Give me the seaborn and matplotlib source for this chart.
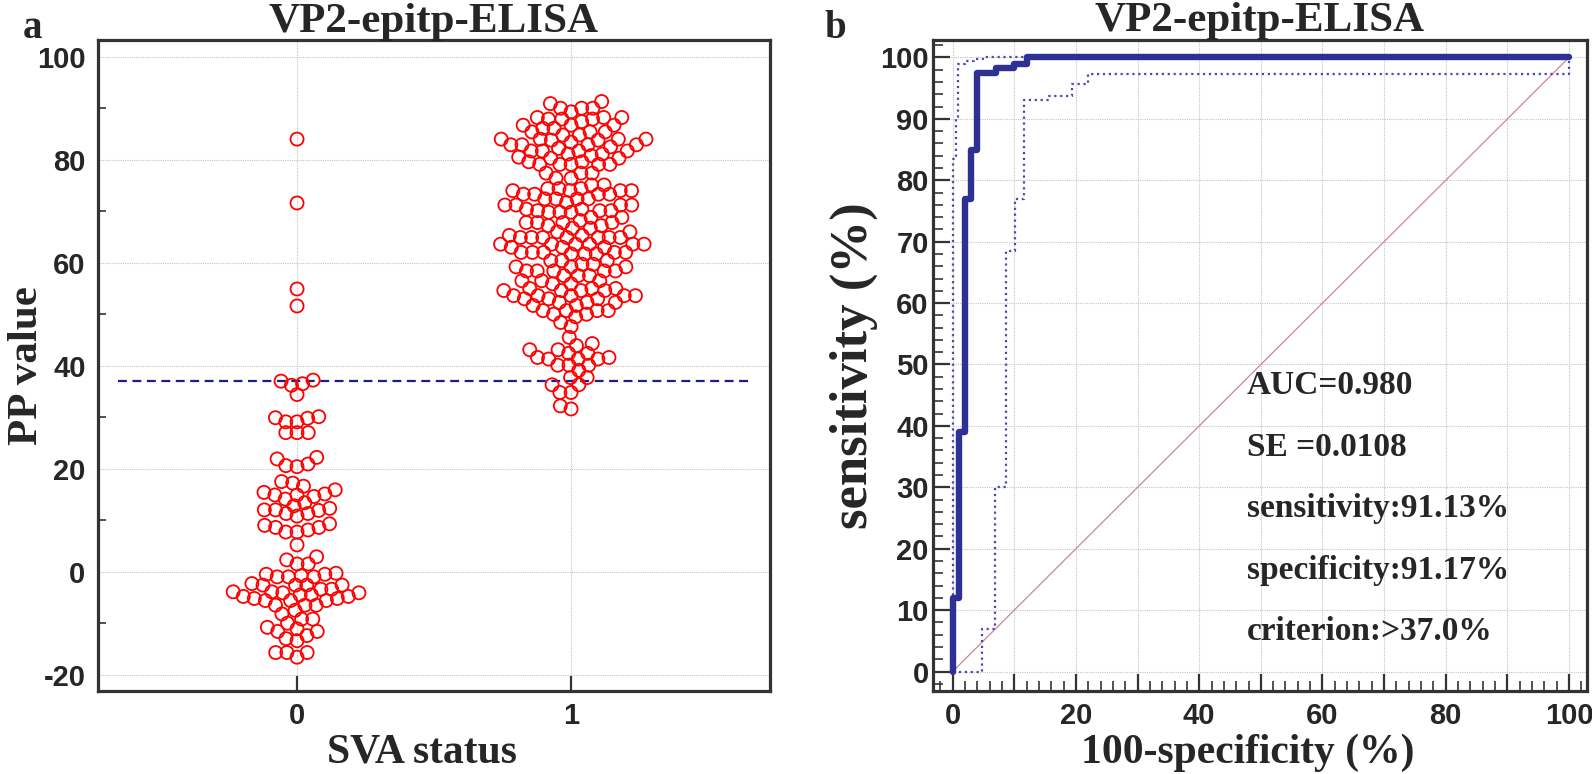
import matplotlib
matplotlib.use("Agg")
import matplotlib.pyplot as plt
import matplotlib.ticker as mticker
import numpy as np
import pandas as pd
import seaborn as sns

# PP values (SVA negative = 0, positive = 1)
pp_status0 = [
    84.0, 71.6, 54.9, 51.6, 37.2, 37.0, 36.5, 36.2, 34.4,
    29.9, 29.8, 30.1, 29.1, 29.1, 27.0, 27.0, 27.0,
    22.2, 21.9, 20.9, 20.6, 20.4, 17.5, 17.2, 16.6, 15.9, 15.4, 15.1,
    14.9, 14.9, 14.6, 14.1, 13.4, 12.8, 12.3, 12.0, 12.0, 11.9, 11.3, 11.3,
    10.8, 9.3, 9.0, 8.6, 8.6, 8.1, 7.7, 7.7, 5.2, 2.9, 2.3, 1.5, 1.5,
    -0.3, -0.5, -0.5, -0.8, -1.0, -1.0, -1.0, -2.3, -2.6, -2.6, -2.6, -2.6,
    -3.4, -3.4, -3.9, -3.9, -4.1, -4.1, -4.5, -4.5, -4.8, -4.8, -5.2, -5.2,
    -5.6, -5.6, -5.6, -6.5, -6.5, -6.5, -7.5, -8.2, -9.2, -9.2, -10.0,
    -10.8, -11.1, -11.6, -11.6, -12.4, -13.0, -13.4, -15.7, -15.7, -15.7, -16.6,
]
pp_status1 = [
    91.3, 90.9, 90.0, 90.0, 90.0, 89.3, 88.2, 88.2, 88.2, 87.9, 87.9, 87.9,
    87.4, 86.7, 86.7, 86.7, 86.1, 86.1, 85.4, 85.4, 85.4, 84.8, 84.8,
    84.0, 84.0, 84.0, 84.0, 83.8, 83.8, 83.4, 82.9, 82.9, 82.9, 82.9,
    82.5, 82.2, 81.7, 81.7, 81.7, 81.7, 81.1, 81.1, 80.8, 80.5, 80.3, 80.3,
    79.6, 79.6, 79.1, 79.1, 79.1, 79.1, 79.1, 77.4, 77.4, 77.4, 76.4, 76.4,
    75.1, 75.1, 74.4, 74.4, 74.4, 74.0, 74.0, 74.0, 74.0, 73.3, 73.3, 73.3,
    73.3, 72.4, 72.4, 72.4, 72.4, 71.7, 71.2, 71.2, 71.2, 71.2, 70.4, 70.4,
    70.1, 70.1, 70.1, 69.8, 69.8, 69.8, 68.8, 68.8, 68.2, 67.8, 67.8, 67.8,
    67.8, 67.2, 67.2, 66.7, 66.7, 66.0, 66.0, 65.3, 65.3,
    64.9, 64.9, 64.9, 64.9, 64.9, 64.9, 64.9, 63.6, 63.6, 63.6, 63.6, 63.6,
    63.6, 63.0, 63.0, 63.0, 62.0, 62.0, 62.0, 62.0, 62.0, 61.7, 61.7, 61.7,
    60.4, 60.4, 60.4, 59.7, 59.7, 59.2, 59.2, 59.2, 58.4, 58.4, 58.4, 58.4,
    58.4, 57.5, 57.5, 57.5, 56.5, 56.5, 56.5, 55.9, 55.9, 55.0, 55.0, 55.0,
    54.6, 54.6, 54.6, 54.6, 53.6, 53.6, 53.6, 53.6, 53.6, 53.0, 53.0, 53.0,
    52.3, 52.3, 52.3, 51.7, 51.7, 50.7, 50.7, 50.7, 50.7, 50.0, 50.0, 49.5,
    48.4, 47.6, 45.5, 44.3, 43.9, 43.1, 43.1, 42.4, 42.4, 41.6, 41.6,
    41.3, 41.3, 41.3, 40.1, 40.1, 40.1, 39.1, 37.7, 37.7, 36.3, 36.3,
    34.8, 34.8, 32.2, 31.6,
]
status_order = ["0", "1"]
cutoff = 37.0

# ROC curve and its confidence bounds (100-specificity, sensitivity), step points
roc_fpr = [0, 0, 1, 2, 3, 4, 7, 10, 12, 100]
roc_tpr = [0, 12, 39, 77, 85, 97.5, 98.2, 99, 100, 100]
upper_fpr = [0, 0, 0.5, 0.8, 2, 3.5, 5, 100]
upper_tpr = [0, 83.5, 90, 99, 99.4, 99.7, 100, 100]
lower_fpr = [0, 4.8, 6.8, 8.6, 10.1, 11.5, 15.7, 19.4, 21.9, 100]
lower_tpr = [0, 7, 30, 68.5, 77, 93.1, 93.8, 95.7, 97.3, 100]
diag = [0, 100]

stats_text = [
    "AUC=0.980",
    "SE =0.0108",
    "sensitivity:91.13%",
    "specificity:91.17%",
    "criterion:>37.0%",
]

title = "VP2-epitp-ELISA"

sns.set_style("white")
plt.rcParams["font.family"] = ["Liberation Serif", "DejaVu Serif"]
plt.rcParams["font.weight"] = "bold"
plt.rcParams["axes.unicode_minus"] = False

serif = ["Liberation Serif", "DejaVu Serif"]
sans = ["Liberation Sans", "DejaVu Sans"]
spine_col = "#333333"
grid_kw = dict(color="#c4c4c4", linewidth=0.8, linestyle=(0, (1, 1)))

fig = plt.figure(figsize=(15.92, 7.74), dpi=100)
ax1 = fig.add_axes([0.0616, 0.107, 0.4221, 0.841])
ax2 = fig.add_axes([0.586, 0.107, 0.4108, 0.841])

# ---- panel a: dot plot
df = pd.DataFrame({
    "status": ["0"] * len(pp_status0) + ["1"] * len(pp_status1),
    "pp": pp_status0 + pp_status1,
})
# lay the swarm out with a smaller marker so circles overlap like the original
sns.swarmplot(data=df, x="status", y="pp", order=status_order, size=6.4,
              color="red", edgecolor="red", linewidth=1.3, warn_thresh=1.0,
              zorder=3, ax=ax1)
ax1.set_xlim(-0.726, 1.726)
ax1.set_ylim(-23.2, 103.2)
fig.canvas.draw()
for coll in ax1.collections:
    if "draw" in coll.__dict__:
        del coll.draw  # freeze swarm positions
    coll.set_sizes([9.4 ** 2])
    coll.set_facecolor("none")
    coll.set_edgecolor("red")
    coll.set_linewidth(1.3)

ax1.axhline(cutoff, xmin=0.03, xmax=0.97, color="#1c1c8c", lw=1.6,
            ls=(0, (4, 2.5)), zorder=2)
ax1.yaxis.set_major_locator(mticker.MultipleLocator(20))
ax1.yaxis.set_minor_locator(mticker.MultipleLocator(10))
ax1.grid(True, which="major", **grid_kw)
ax1.set_axisbelow(True)
ax1.tick_params(axis="y", which="major", direction="in", length=12, width=1.6,
                pad=9, color=spine_col)
ax1.tick_params(axis="y", which="minor", direction="in", length=6, width=1.2,
                color=spine_col, left=True)
ax1.tick_params(axis="x", which="major", direction="in", length=11, width=1.6,
                pad=8, color=spine_col, bottom=True)
ax1.set_xlabel("SVA status", fontsize=30, fontweight="bold", family=serif)
ax1.set_ylabel("PP value", fontsize=31, fontweight="bold", family=serif)
ax1.xaxis.set_label_coords(0.482, -0.11)
ax1.yaxis.set_label_coords(-0.077, 0.5)
ax1.set_title(title, fontsize=31, fontweight="bold", family=serif, pad=6)

# ---- panel b: ROC curve
sns.lineplot(x=diag, y=diag, color="#c98a8a", lw=0.9, estimator=None,
             sort=False, ax=ax2)
sns.lineplot(x=upper_fpr, y=upper_tpr, color="#4848b0", lw=1.6, ls=":",
             drawstyle="steps-post", estimator=None, sort=False, ax=ax2)
sns.lineplot(x=lower_fpr, y=lower_tpr, color="#4848b0", lw=1.6, ls=":",
             drawstyle="steps-post", estimator=None, sort=False, ax=ax2)
sns.lineplot(x=roc_fpr, y=roc_tpr, color="#2e3192", lw=4.6,
             drawstyle="steps-post", estimator=None, sort=False, ax=ax2)
ax2.set_xlim(-3.2, 102.9)
ax2.set_ylim(-3.2, 102.8)
for ax_ in (ax2.xaxis, ax2.yaxis):
    ax_.set_major_locator(mticker.MultipleLocator(10))
    ax_.set_minor_locator(mticker.MultipleLocator(2))
ax2.xaxis.set_major_formatter(
    mticker.FuncFormatter(lambda v, p: f"{v:.0f}" if round(v) % 20 == 0 else ""))
ax2.grid(True, which="major", **grid_kw)
ax2.set_axisbelow(True)
ax2.tick_params(which="major", direction="in", length=12, width=1.6,
                color=spine_col, left=True, bottom=True)
ax2.tick_params(which="minor", direction="in", length=7, width=1.2,
                color=spine_col, left=True, bottom=True)
ax2.tick_params(axis="x", which="major", pad=8)
ax2.tick_params(axis="y", which="major", pad=3)
ax2.set_xlabel("100-specificity (%)", fontsize=30, fontweight="bold",
               family=serif)
ax2.set_ylabel("sensitivity (%)", fontsize=38, fontweight="bold",
               family=serif)
ax2.xaxis.set_label_coords(0.481, -0.11)
ax2.yaxis.set_label_coords(-0.084, 0.5)
ax2.set_title(title, fontsize=31, fontweight="bold", family=serif, pad=6)
for i, line in enumerate(stats_text):
    ax2.text(47.7, 46.5 - 10 * i, line, fontsize=24, fontweight="bold",
             family=serif, va="center", ha="left")

for ax in (ax1, ax2):
    for sp in ax.spines.values():
        sp.set_visible(True)
        sp.set_linewidth(2.3)
        sp.set_color(spine_col)
    for lab in ax.get_xticklabels() + ax.get_yticklabels():
        lab.set_fontfamily(sans)
        lab.set_fontweight("bold")
        lab.set_fontsize(21)
for lab in ax1.xaxis.label, ax2.xaxis.label:
    lab.set_va("baseline")

fig.text(0.0205, 0.963, "a", fontsize=28, fontweight="bold", family=serif,
         ha="center", va="center")
fig.text(0.525, 0.963, "b", fontsize=28, fontweight="bold", family=serif,
         ha="center", va="center")

fig.savefig("out.png", dpi=100)
